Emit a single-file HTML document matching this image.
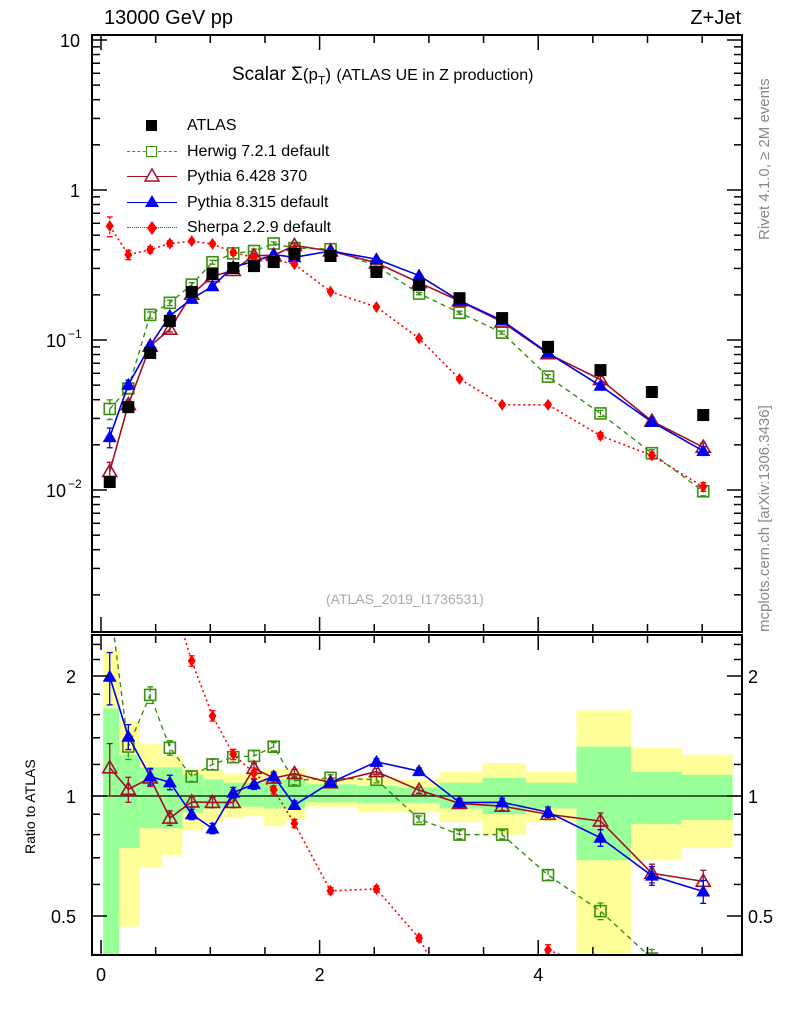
<!DOCTYPE html>
<html><head><meta charset="utf-8"><style>
body{margin:0;background:#fff;}
svg{display:block;font-family:"Liberation Sans",sans-serif;}
.lg span{white-space:nowrap;}
</style></head><body>
<svg id="c" width="786" height="1024" viewBox="0 0 786 1024"></svg>
<script>
const xs = [0.08,0.25,0.45,0.63,0.83,1.02,1.21,1.40,1.58,1.77,2.10,2.52,2.91,3.28,3.67,4.09,4.57,5.04,5.51];
const binEdges = [0.02,0.165,0.355,0.56,0.745,0.935,1.12,1.30,1.49,1.69,1.87,2.34,2.72,3.10,3.49,3.89,4.35,4.85,5.31,5.78];
const atlas = [0.0113,0.0357,0.082,0.134,0.209,0.275,0.302,0.311,0.331,0.375,0.363,0.284,0.233,0.19,0.14,0.09,0.063,0.045,0.0316];
const herwig = [0.0347,0.0475,0.147,0.177,0.234,0.33,0.378,0.392,0.44,0.41,0.403,0.312,0.204,0.152,0.112,0.057,0.0324,0.0176,0.0098];
const pythia6 = [0.0133,0.0371,0.091,0.118,0.202,0.265,0.291,0.365,0.367,0.427,0.392,0.327,0.241,0.182,0.132,0.081,0.0545,0.0288,0.0193];
const pythia8 = [0.0225,0.0503,0.0918,0.145,0.188,0.228,0.308,0.333,0.371,0.356,0.392,0.346,0.269,0.183,0.135,0.082,0.0495,0.0284,0.0182];
const sherpa = [0.575,0.37,0.40,0.44,0.456,0.437,0.384,0.355,0.343,0.32,0.21,0.166,0.1025,0.055,0.037,0.037,0.023,0.017,0.0105];
const relErr = [0.25,0.12,0.08,0.07,0.05,0.05,0.05,0.05,0.04,0.04,0.03,0.03,0.03,0.04,0.04,0.05,0.08,0.09,0.11];
const yellowHi = [2.32,1.54,1.35,1.26,1.17,1.16,1.14,1.14,1.17,1.17,1.11,1.11,1.10,1.15,1.21,1.15,1.64,1.32,1.27];
const greenHi = [1.66,1.27,1.18,1.18,1.13,1.10,1.08,1.08,1.10,1.10,1.07,1.06,1.05,1.08,1.11,1.08,1.33,1.15,1.13];
const greenLo = [0.35,0.74,0.83,0.83,0.91,0.93,0.94,0.94,0.93,0.93,0.965,0.96,0.96,0.93,0.90,0.93,0.69,0.85,0.87];
const yellowLo = [0.35,0.47,0.66,0.71,0.82,0.86,0.88,0.89,0.84,0.87,0.94,0.91,0.91,0.86,0.80,0.86,0.35,0.69,0.74];
const xTicks = [0,2,4];
const mainTicks = [["10",1],["1",0],["10",-1],["10",-2]];
const ratioTicks = ["2","1","0.5"];

const NS="http://www.w3.org/2000/svg";
const svg=document.getElementById('c');
const L=92,R=742,T=35,B=632,RT=635,RB=955;
const X=v=>101+v*109.3;
const Y=v=>190-150*Math.log10(v);
const RY=v=>796-120*Math.log2(v);
function el(tag,attrs,parent){const e=document.createElementNS(NS,tag);for(const k in attrs)e.setAttribute(k,attrs[k]);(parent||svg).appendChild(e);return e;}
function txt(s,attrs,parent){const e=el('text',attrs,parent);e.textContent=s;return e;}
const clipD=el('defs',{});
const c1=el('clipPath',{id:'cm'},clipD);el('rect',{x:L,y:T,width:R-L,height:B-T},c1);
const c2=el('clipPath',{id:'cr'},clipD);el('rect',{x:L,y:RT,width:R-L,height:RB-RT},c2);

const bands=el('g',{'clip-path':'url(#cr)'});


for(let i=0;i<xs.length;i++){
  const x0=X(binEdges[i]),x1=X(binEdges[i+1]);
  const yb=el('rect',{x:x0,y:RY(yellowHi[i]),width:x1-x0,height:RY(yellowLo[i])-RY(yellowHi[i]),fill:'#ffff99'},bands);
  
  
  const gb=el('rect',{x:x0,y:RY(greenHi[i]),width:x1-x0,height:RY(greenLo[i])-RY(greenHi[i]),fill:'#99ff99'},bands);
  
  
}
el('line',{x1:L,x2:R,y1:RY(1),y2:RY(1),stroke:'#000','stroke-width':1.2});

function marker(g,type,x,y,color){
  if(type==='sq'){el('rect',{x:x-6,y:y-6,width:12,height:12,fill:'#000'},g);}
  else if(type==='osq'){el('rect',{x:x-5.5,y:y-5.5,width:11,height:11,fill:'none',stroke:color,'stroke-width':1.6},g);}
  else if(type==='otri'){el('polygon',{points:`${x},${y-7} ${x-7},${y+5} ${x+7},${y+5}`,fill:'none',stroke:color,'stroke-width':1.6},g);}
  else if(type==='tri'){el('polygon',{points:`${x},${y-7} ${x-7},${y+5} ${x+7},${y+5}`,fill:color},g);}
  else if(type==='dia'){el('polygon',{points:`${x},${y-6} ${x-4},${y} ${x},${y+6} ${x+4},${y}`,fill:color},g);}
}
const series=[
  {name:'herwig',vals:herwig,color:'#3a9010',dash:'5,4',m:'osq',w:1.4},
  {name:'pythia6',vals:pythia6,color:'#a01028',dash:'',m:'otri',w:1.6},
  {name:'pythia8',vals:pythia8,color:'#0000ee',dash:'',m:'tri',w:1.6},
  {name:'sherpa',vals:sherpa,color:'#ff0000',dash:'2,3',m:'dia',w:1.6}
];
function drawSeries(s,ratio){
  const g=el('g',{'clip-path':ratio?'url(#cr)':'url(#cm)'});
  
  
  const pts=s.vals.map((v,i)=>[X(xs[i]),ratio?RY(v/atlas[i]):Y(v)]);
  el('polyline',{points:pts.map(p=>p.join(',')).join(' '),fill:'none',stroke:s.color,'stroke-width':s.w,'stroke-dasharray':s.dash},g);
  s.vals.forEach((v,i)=>{
    const r=ratio?v/atlas[i]:v;const e=relErr[i]*0.6;
    const f=ratio?RY:Y;
    const y1=f(r*(1+e)),y2=f(r*(1-e));
    el('line',{x1:pts[i][0],x2:pts[i][0],y1:y1,y2:y2,stroke:s.color,'stroke-width':1.3,'stroke-dasharray':s.dash},g);
    el('line',{x1:pts[i][0]-3,x2:pts[i][0]+3,y1:y1,y2:y1,stroke:s.color,'stroke-width':1.3},g);
    el('line',{x1:pts[i][0]-3,x2:pts[i][0]+3,y1:y2,y2:y2,stroke:s.color,'stroke-width':1.3},g);
    marker(g,s.m,pts[i][0],pts[i][1],s.color);
  });
}
series.forEach(s=>drawSeries(s,false));
series.forEach(s=>drawSeries(s,true));
const ag=el('g',{'clip-path':'url(#cm)'});


atlas.forEach((v,i)=>marker(ag,'sq',X(xs[i]),Y(v),'#000'));

el('rect',{x:L,y:T,width:R-L,height:B-T,fill:'none',stroke:'#000','stroke-width':2});
el('rect',{x:L,y:RT,width:R-L,height:RB-RT,fill:'none',stroke:'#000','stroke-width':2});
for(let v=0;v<=5.5;v+=0.5){
  const x=X(v),big=(v%2===0)?1:0,len=big?15:8;
  [[T,1],[B,-1],[RT,1],[RB,-1]].forEach(([y,d])=>el('line',{x1:x,x2:x,y1:y,y2:y+d*len,stroke:'#000','stroke-width':1.5}));
}
xTicks.forEach(v=>{const t=txt(String(v),{x:X(v),y:981,'font-size':18,'text-anchor':'middle'});
});
for(let d=-3;d<=1;d++){for(let m=1;m<10;m++){const v=m*Math.pow(10,d);const y=Y(v);if(y<T||y>B)continue;
  const len=m===1?15:8;
  el('line',{x1:L,x2:L+len,y1:y,y2:y,stroke:'#000','stroke-width':1.5});
  el('line',{x1:R,x2:R-len,y1:y,y2:y,stroke:'#000','stroke-width':1.5});}}
mainTicks.forEach(([b,e])=>{const y=Y(Math.pow(10,e));
  const t=txt(b,{x:e<0?66:80,y:y+7,'font-size':18,'text-anchor':'end'});
  
  if(e<0){const s=txt(e===-2?'\u22122':'\u22121',{x:68,y:y-2,'font-size':12});}
});
[0.4,0.5,0.6,0.7,0.8,0.9,1,1.2,1.4,1.6,1.8,2,2.2,2.4].forEach(v=>{const y=RY(v);const big=(v===0.5||v===1||v===2);const len=big?15:8;
  el('line',{x1:L,x2:L+len,y1:y,y2:y,stroke:'#000','stroke-width':1.5});
  el('line',{x1:R,x2:R-len,y1:y,y2:y,stroke:'#000','stroke-width':1.5});});
ratioTicks.forEach(s=>{const y=RY(parseFloat(s))+7;
  const a=txt(s,{x:76,y:y,'font-size':18,'text-anchor':'end'});
  const b=txt(s,{x:748,y:y,'font-size':18});});
</script>
<div style="position:absolute;left:0;top:0;width:786px;height:1024px;pointer-events:none;font-family:'Liberation Sans',sans-serif;">
<div style="position:absolute;left:104px;top:7px;font-size:20px;">13000 GeV pp</div>
<div style="position:absolute;right:45px;top:7px;font-size:20px;">Z+Jet</div>
<div style="position:absolute;left:232px;top:64px;font-size:19px;white-space:nowrap;">Scalar Σ<span style="font-size:17px">(p<sub style="font-size:12px">T</sub>)</span> <span style="font-size:16px">(ATLAS UE in Z production)</span></div>
<div style="position:absolute;left:326px;top:591px;font-size:14px;color:#aaa;">(ATLAS_2019_I1736531)</div>
<div style="position:absolute;left:756px;top:240px;transform:rotate(-90deg);transform-origin:0 0;font-size:15px;color:#888;white-space:nowrap;">Rivet 4.1.0, ≥ 2M events</div>
<div style="position:absolute;left:756px;top:632px;transform:rotate(-90deg);transform-origin:0 0;font-size:15px;color:#888;white-space:nowrap;">mcplots.cern.ch [arXiv:1306.3436]</div>
<div style="position:absolute;left:22px;top:854px;transform:rotate(-90deg);transform-origin:0 0;font-size:14px;white-space:nowrap;">Ratio to ATLAS</div>
<div class="lg" style="position:absolute;left:120px;top:113px;width:300px;font-size:16px;line-height:25.5px;">
 <div style="position:relative;height:25.5px;"><span style="position:absolute;left:26px;top:7px;width:11px;height:11px;background:#000"></span><span style="position:absolute;left:67px;">ATLAS</span></div>
 <div style="position:relative;height:25.5px;"><span style="position:absolute;left:7px;top:12px;width:50px;border-top:1.5px dashed #3a9010"></span><span style="position:absolute;left:26px;top:7px;width:9px;height:9px;border:1.5px solid #3a9010;background:#fff"></span><span style="position:absolute;left:67px;">Herwig 7.2.1 default</span></div>
 <div style="position:relative;height:25.5px;"><span style="position:absolute;left:7px;top:12px;width:50px;border-top:1.5px solid #a01028"></span><svg style="position:absolute;left:23px;top:3px" width="18" height="16"><polygon points="9,2 2,14 16,14" fill="#fff" stroke="#a01028" stroke-width="1.5"/></svg><span style="position:absolute;left:67px;">Pythia 6.428 370</span></div>
 <div style="position:relative;height:25.5px;"><span style="position:absolute;left:7px;top:12px;width:50px;border-top:1.5px solid #0000ee"></span><svg style="position:absolute;left:23px;top:3px" width="18" height="16"><polygon points="9,2 2,14 16,14" fill="#0000ee"/></svg><span style="position:absolute;left:67px;">Pythia 8.315 default</span></div>
 <div style="position:relative;height:25.5px;"><span style="position:absolute;left:7px;top:12px;width:50px;border-top:1.5px dotted #ff0000"></span><svg style="position:absolute;left:26px;top:5px" width="12" height="16"><polygon points="6,1 1,8 6,15 11,8" fill="#ff0000"/></svg><span style="position:absolute;left:67px;">Sherpa 2.2.9 default</span></div>
</div>
</div>
</body></html>
